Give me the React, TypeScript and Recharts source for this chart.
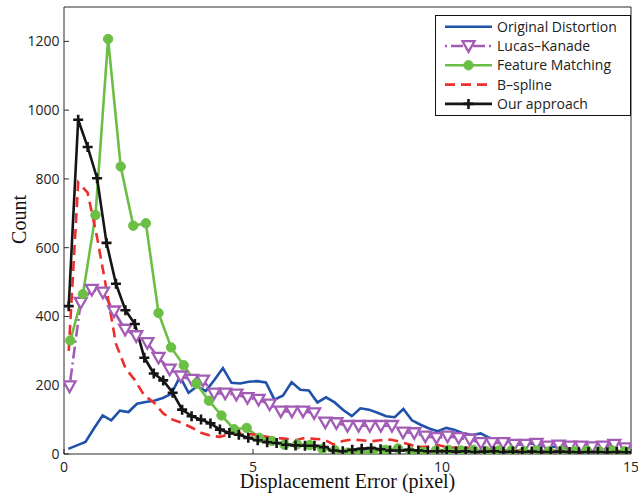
import React from 'react';
import { LineChart, Line, XAxis, YAxis, Legend } from 'recharts';

// ---------- data ----------
const X_TICKS = [0, 5, 10, 15];
const Y_TICKS = [0, 200, 400, 600, 800, 1000, 1200];
const X_DOMAIN = [0, 15];
const Y_DOMAIN = [0, 1300];
const X_LABEL = 'Displacement Error (pixel)';
const Y_LABEL = 'Count';

const SERIES_NAMES = ['Original Distortion', 'Lucas\u2013Kanade', 'Feature Matching', 'B\u2013spline', 'Our approach'];

// histogram bin widths (pixel) of each curve
const ORIGINAL_BIN = 15 / 66;
const LK_BIN = 15 / 51;
const FM_BIN = 15 / 45;
const BSPLINE_BIN = 15 / 60;
const OURS_BIN = 15 / 60;

const originalValues = [15, 25, 35, 75, 112, 98, 126, 122, 146, 151, 155, 163, 175, 225, 178, 197, 183, 215, 250, 207, 205, 210, 212, 208, 158, 170, 209, 187, 185, 150, 165, 150, 128, 110, 133, 129, 120, 110, 107, 131, 98, 85, 74, 66, 76, 70, 60, 55, 60, 47, 42, 38, 33, 33, 30, 25, 22, 20, 18, 15, 14, 12, 10, 10, 8, 8];
const lucasKanadeValues = [197, 440, 478, 470, 415, 362, 343, 323, 280, 246, 226, 216, 214, 176, 176, 173, 163, 158, 144, 124, 124, 124, 119, 92, 90, 82, 82, 82, 82, 82, 63, 61, 51, 47, 51, 47, 42, 32, 32, 32, 27, 27, 30, 22, 25, 22, 22, 20, 22, 27, 17];
const featureMatchingValues = [330, 465, 695, 1207, 836, 664, 671, 410, 310, 258, 205, 155, 112, 72, 76, 47, 38, 27, 28, 26, 15, 11, 4, 5, 8, 12, 16, 6, 6, 10, 12, 10, 12, 8, 10, 10, 8, 10, 8, 10, 8, 10, 8, 10, 8];
const bsplineValues = [300, 790, 760, 630, 478, 320, 250, 215, 170, 150, 118, 100, 90, 77, 62, 53, 50, 58, 62, 58, 55, 50, 47, 44, 40, 47, 44, 42, 28, 38, 42, 40, 37, 40, 42, 36, 28, 20, 22, 27, 20, 18, 20, 13, 12, 12, 10, 10, 9, 10, 8, 9, 8, 10, 8, 9, 8, 8, 7, 8];
const oursValues = [430, 972, 893, 802, 614, 495, 418, 378, 280, 234, 214, 178, 129, 110, 100, 89, 71, 61, 56, 47, 40, 34, 32, 27, 25, 24, 24, 20, 10, 8, 12, 15, 17, 14, 10, 10, 12, 10, 8, 8, 8, 7, 8, 6, 7, 8, 6, 7, 6, 7, 6, 6, 7, 6, 5, 6, 6, 5, 6, 5];

const toPoints = (values: number[], bin: number) => values.map((y, i) => ({ x: (i + 0.5) * bin, y }));

const originalData = toPoints(originalValues, ORIGINAL_BIN);
const lkData = toPoints(lucasKanadeValues, LK_BIN);
const fmData = toPoints(featureMatchingValues, FM_BIN);
const bsData = toPoints(bsplineValues, BSPLINE_BIN);
const oursData = toPoints(oursValues, OURS_BIN);

// ---------- styles ----------
const C_BLUE = '#1f52a8';
const C_PURPLE = '#a35cb6';
const C_GREEN = '#6cbf45';
const C_RED = '#ee2d2d';
const C_BLACK = '#151515';
const AXIS = '#2a2a2a';
const SANS = '"Open Sans", "DejaVu Sans", sans-serif';
const SERIF = '"Liberation Serif", "DejaVu Serif", serif';

type Marker = 'tri' | 'circle' | 'plus' | null;

const drawMarker = (m: Marker, cx: number, cy: number, color: string, key?: any) => {
  if (m === 'tri')
    return <path key={key} d={`M${cx - 6},${cy - 4.8}L${cx + 6},${cy - 4.8}L${cx},${cy + 5.8}Z`} fill="#fff" stroke={color} strokeWidth={2.3} strokeLinejoin="miter" />;
  if (m === 'circle') return <circle key={key} cx={cx} cy={cy} r={4.7} fill={color} stroke={color} strokeWidth={1} />;
  if (m === 'plus')
    return <path key={key} d={`M${cx - 5},${cy}H${cx + 5}M${cx},${cy - 5}V${cy + 5}`} stroke={color} strokeWidth={2.6} fill="none" />;
  return null;
};

const makeDot = (m: Marker, color: string) => (props: any) => {
  const { cx, cy, index } = props;
  if (cx == null || cy == null) return <g key={index} />;
  return drawMarker(m, cx, cy, color, index);
};

const SERIES = [
  { key: 'orig', name: SERIES_NAMES[0], color: C_BLUE, width: 2.6, dash: undefined as string | undefined, marker: null as Marker },
  { key: 'lk', name: SERIES_NAMES[1], color: C_PURPLE, width: 2.6, dash: '2 4 12 4', marker: 'tri' as Marker },
  { key: 'fm', name: SERIES_NAMES[2], color: C_GREEN, width: 2.6, dash: undefined, marker: 'circle' as Marker },
  { key: 'bs', name: SERIES_NAMES[3], color: C_RED, width: 2.6, dash: '10 6', marker: null as Marker },
  { key: 'ours', name: SERIES_NAMES[4], color: C_BLACK, width: 2.6, dash: undefined, marker: 'plus' as Marker },
];

const LegendBox = () => (
  <svg width={196} height={101} style={{ display: 'block' }}>
    <rect x={0.5} y={0.5} width={195} height={100} fill="#fff" stroke="#111" strokeWidth={1} />
    {SERIES.map((s, i) => {
      const y = 11.7 + i * 19.3;
      return (
        <g key={s.key}>
          <line x1={10} x2={57} y1={y} y2={y} stroke={s.color} strokeWidth={s.width} strokeDasharray={s.dash} />
          {drawMarker(s.marker, 33.5, y, s.color)}
          <text x={62} y={y + 5} fontFamily={SANS} fontSize={14} fill="#222">{s.name}</text>
        </g>
      );
    })}
  </svg>
);

const YLabel = (props: any) => {
  const vb = props.viewBox || { x: 0, y: 7, width: 64, height: 447 };
  const cx = vb.x + 18.5;
  const cy = vb.y + vb.height / 2 - 11;
  return (
    <text x={cx} y={cy} transform={`rotate(-90 ${cx} ${cy})`} textAnchor="middle" dy={7} fontFamily={SERIF} fontSize={20} fill="#111">
      {Y_LABEL}
    </text>
  );
};

const tickStyle = { fontFamily: SANS, fontSize: 14, fill: '#222' };

export default function App() {
  return (
    <div style={{ position: 'absolute', left: 0, top: 0, width: 638, height: 497, background: '#fff' }}>
      <LineChart width={638} height={497} margin={{ top: 6, right: 6, bottom: 0, left: 0 }}>
        <XAxis
          xAxisId="b"
          type="number"
          dataKey="x"
          domain={X_DOMAIN}
          ticks={X_TICKS}
          allowDataOverflow
          height={43}
          tickSize={-5}
          tickMargin={13}
          tick={tickStyle}
          stroke={AXIS}
          axisLine={{ stroke: AXIS }}
          tickLine={{ stroke: AXIS }}
          label={{ value: X_LABEL, position: 'insideBottom', offset: 9, fill: '#111', fontSize: 20, fontFamily: SERIF }}
        />
        <XAxis
          xAxisId="t"
          orientation="top"
          type="number"
          dataKey="x"
          domain={X_DOMAIN}
          ticks={X_TICKS}
          allowDataOverflow
          height={1}
          tickSize={-5}
          tick={false}
          axisLine={{ stroke: AXIS }}
          tickLine={{ stroke: AXIS }}
        />
        <YAxis
          yAxisId="l"
          type="number"
          domain={Y_DOMAIN}
          ticks={Y_TICKS}
          allowDataOverflow
          width={64}
          tickSize={-5}
          tickMargin={9.5}
          tick={tickStyle}
          axisLine={{ stroke: AXIS }}
          tickLine={{ stroke: AXIS }}
          label={<YLabel />}
        />
        <YAxis
          yAxisId="r"
          orientation="right"
          type="number"
          domain={Y_DOMAIN}
          ticks={Y_TICKS}
          allowDataOverflow
          width={1}
          tickSize={-5}
          tick={false}
          axisLine={{ stroke: AXIS }}
          tickLine={{ stroke: AXIS }}
        />
        <Legend
          layout="vertical"
          align="center"
          verticalAlign="middle"
          content={() => <LegendBox />}
          wrapperStyle={{ left: 435, top: 15, width: 196, height: 101 }}
        />
        <Line xAxisId="b" yAxisId="l" data={originalData} dataKey="y" name={SERIES[0].name} type="linear" stroke={C_BLUE} strokeWidth={2.6} dot={false} activeDot={false} isAnimationActive={false} />
        <Line xAxisId="b" yAxisId="l" data={lkData} dataKey="y" name={SERIES[1].name} type="linear" stroke={C_PURPLE} strokeWidth={2.6} strokeDasharray="2 4 12 4" dot={makeDot('tri', C_PURPLE)} activeDot={false} isAnimationActive={false} />
        <Line xAxisId="b" yAxisId="l" data={fmData} dataKey="y" name={SERIES[2].name} type="linear" stroke={C_GREEN} strokeWidth={2.6} dot={makeDot('circle', C_GREEN)} activeDot={false} isAnimationActive={false} />
        <Line xAxisId="b" yAxisId="l" data={bsData} dataKey="y" name={SERIES[3].name} type="linear" stroke={C_RED} strokeWidth={2.6} strokeDasharray="10 6" dot={false} activeDot={false} isAnimationActive={false} />
        <Line xAxisId="b" yAxisId="l" data={oursData} dataKey="y" name={SERIES[4].name} type="linear" stroke={C_BLACK} strokeWidth={2.6} dot={makeDot('plus', C_BLACK)} activeDot={false} isAnimationActive={false} />
      </LineChart>
    </div>
  );
}
